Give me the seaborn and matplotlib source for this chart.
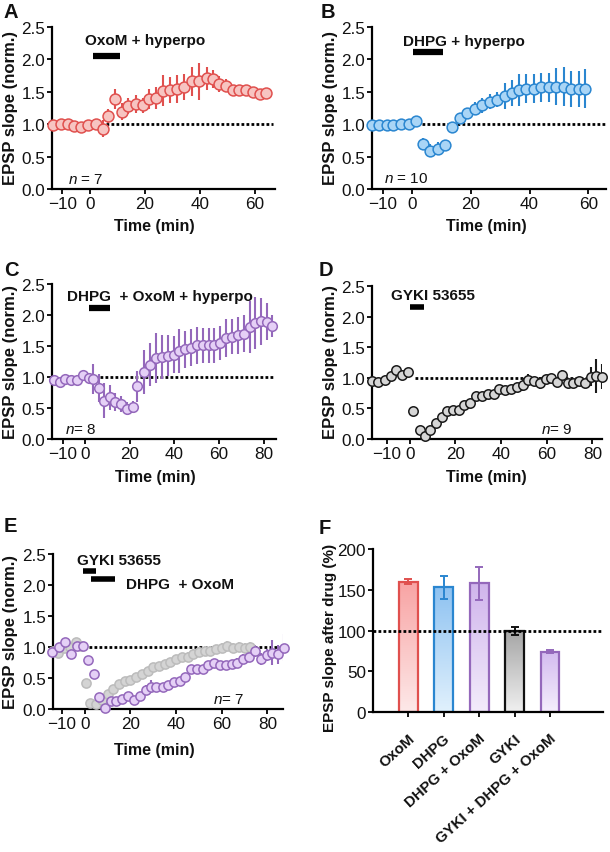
import numpy as np
import pandas as pd
import matplotlib
matplotlib.use("Agg")
import matplotlib.pyplot as plt
import seaborn as sns
from matplotlib import font_manager
from matplotlib.colors import LinearSegmentedColormap
from matplotlib.ticker import FormatStrFormatter
from matplotlib.transforms import ScaledTranslation

sns.set_theme(style="ticks")
_names = {f.name for f in font_manager.fontManager.ttflist}
BASE = "Liberation Sans" if "Liberation Sans" in _names else "DejaVu Sans"
NARROW = "Liberation Sans Narrow" if "Liberation Sans Narrow" in _names else BASE
TICK_FS = 13 if NARROW != BASE else 12.3
plt.rcParams["font.family"] = [BASE, "DejaVu Sans"]
plt.rcParams["mathtext.fontset"] = "custom"
plt.rcParams["mathtext.it"] = BASE + ":italic"
plt.rcParams["mathtext.rm"] = BASE

# ---------------- data ----------------
A_time = [-13.6, -10.5, -8.1, -5.8, -3.3, -0.6, 2.1, 4.6, 6.4, 9.1, 11.5, 13.9, 16.7, 19.4, 21.6, 24.2,
          26.7, 29.1, 31.5, 34.3, 37.0, 39.8, 42.4, 44.8, 47.0, 49.5, 51.9, 54.3, 56.7, 59.4, 61.8, 64.2]
A_val = [0.98, 1.00, 1.00, 0.97, 0.96, 0.99, 1.00, 0.93, 1.13, 1.39, 1.19, 1.28, 1.31, 1.29, 1.39, 1.41,
         1.52, 1.53, 1.54, 1.58, 1.66, 1.66, 1.71, 1.70, 1.62, 1.59, 1.53, 1.53, 1.53, 1.49, 1.47, 1.48]
A_err = [0.05, 0.07, 0.06, 0.06, 0.08, 0.06, 0.08, 0.13, 0.11, 0.15, 0.13, 0.13, 0.14, 0.12, 0.15, 0.17,
         0.24, 0.20, 0.22, 0.20, 0.23, 0.28, 0.18, 0.14, 0.13, 0.10, 0.08, 0.08, 0.08, 0.07, 0.07, 0.06]

B_time = [-13.6, -11.1, -8.6, -6.3, -3.7, -1.1, 1.5, 3.6, 6.2, 8.8, 11.3, 13.6, 16.2, 18.7, 21.3,
          23.8, 26.4, 28.9, 31.5, 34.0, 36.3, 38.9, 41.4, 44.0, 46.5, 49.0, 51.6, 54.1, 56.7, 58.9]
B_val = [0.99, 0.99, 0.99, 0.99, 1.00, 1.00, 1.05, 0.69, 0.59, 0.62, 0.68, 0.96, 1.10, 1.17, 1.24,
         1.29, 1.35, 1.38, 1.44, 1.48, 1.53, 1.55, 1.55, 1.57, 1.57, 1.58, 1.58, 1.54, 1.54, 1.55]
B_err = [0.03, 0.03, 0.03, 0.03, 0.03, 0.03, 0.04, 0.09, 0.10, 0.10, 0.08, 0.07, 0.07, 0.08, 0.10,
         0.12, 0.12, 0.12, 0.20, 0.20, 0.25, 0.22, 0.22, 0.22, 0.22, 0.28, 0.30, 0.28, 0.28, 0.30]

C_time = [-14.2, -11.5, -8.9, -6.4, -3.7, -1.1, 1.5, 3.7, 6.0, 8.2, 10.9, 13.5, 16.0, 18.7, 21.2, 23.4,
          26.4, 29.2, 31.7, 34.4, 36.9, 39.6, 42.1, 44.8, 47.4, 50.1, 52.6, 55.3, 57.8, 60.5, 63.2, 65.8,
          68.3, 71.0, 73.7, 76.2, 78.8, 81.5, 83.7]
C_val = [0.95, 0.92, 0.96, 0.95, 0.95, 1.03, 0.98, 0.97, 0.82, 0.62, 0.67, 0.60, 0.57, 0.49, 0.52, 0.85,
         1.08, 1.20, 1.31, 1.32, 1.34, 1.36, 1.42, 1.45, 1.47, 1.51, 1.51, 1.51, 1.51, 1.55, 1.63, 1.65,
         1.67, 1.70, 1.81, 1.87, 1.90, 1.89, 1.82]
C_err = [0.03, 0.03, 0.03, 0.03, 0.04, 0.05, 0.08, 0.24, 0.23, 0.28, 0.20, 0.15, 0.13, 0.10, 0.10, 0.25,
         0.35, 0.35, 0.40, 0.35, 0.33, 0.30, 0.35, 0.30, 0.30, 0.30, 0.28, 0.28, 0.28, 0.28, 0.30, 0.28,
         0.30, 0.30, 0.42, 0.42, 0.38, 0.30, 0.18]

D_time = [-16.7, -13.8, -10.9, -8.0, -5.8, -3.3, -0.7, 1.3, 4.4, 6.5, 9.0, 11.6, 14.1, 16.3, 18.8, 21.4,
          23.9, 26.5, 29.0, 31.6, 34.2, 36.7, 39.2, 41.8, 44.3, 46.9, 49.4, 51.7, 54.5, 57.1, 59.6, 61.9,
          64.4, 66.9, 69.5, 71.7, 74.2, 76.8, 79.3, 81.5, 84.1]
D_val = [0.95, 0.93, 0.96, 1.03, 1.12, 1.04, 1.09, 0.46, 0.15, 0.05, 0.15, 0.26, 0.36, 0.45, 0.48, 0.48,
         0.56, 0.59, 0.70, 0.71, 0.73, 0.74, 0.81, 0.80, 0.82, 0.85, 0.89, 0.96, 0.95, 0.91, 0.98, 0.99,
         0.93, 1.04, 0.91, 0.91, 0.95, 0.92, 1.02, 1.03, 1.02]
D_err = [0.03, 0.03, 0.03, 0.04, 0.04, 0.03, 0.03, 0.02, 0.02, 0.02, 0.02, 0.03, 0.03, 0.03, 0.03, 0.03,
         0.03, 0.03, 0.04, 0.04, 0.04, 0.04, 0.05, 0.05, 0.06, 0.07, 0.10, 0.10, 0.06, 0.10, 0.06, 0.06,
         0.08, 0.08, 0.05, 0.05, 0.05, 0.05, 0.15, 0.28, 0.20]

E_time = [-14.2, -11.3, -8.5, -6.1, -3.2, -0.7, 1.5, 4.1, 6.3, 8.8, 11.4, 13.9, 16.4, 19.0, 21.7, 24.1,
          26.6, 28.8, 31.4, 34.1, 36.5, 39.0, 41.7, 44.1, 46.5, 49.0, 51.6, 54.1, 56.7, 59.2, 61.7, 64.3,
          66.8, 69.4, 72.1, 74.6, 77.2, 79.7, 82.2, 84.8, 87.3]
E_val = [0.92, 1.00, 1.08, 0.88, 1.02, 1.02, 0.79, 0.57, 0.20, 0.02, 0.13, 0.13, 0.16, 0.21, 0.15, 0.21,
         0.30, 0.36, 0.36, 0.36, 0.39, 0.43, 0.45, 0.52, 0.64, 0.64, 0.65, 0.71, 0.74, 0.71, 0.71, 0.72,
         0.75, 0.80, 0.84, 0.94, 0.81, 0.87, 0.91, 0.88, 0.99]
E_err = [0.02, 0.02, 0.02, 0.02, 0.02, 0.02, 0.02, 0.02, 0.02, 0.02, 0.03, 0.03, 0.03, 0.03, 0.04, 0.05,
         0.08, 0.10, 0.06, 0.05, 0.05, 0.05, 0.05, 0.06, 0.07, 0.07, 0.06, 0.06, 0.06, 0.06, 0.06, 0.07,
         0.08, 0.08, 0.08, 0.10, 0.10, 0.10, 0.20, 0.15, 0.22]

Eg_time = [-14.0, -11.5, -9.0, -6.5, -4.0, -1.5, 0.5, 2.5, 5.0, 7.5, 10.0, 12.5, 15.0, 17.5, 20.0, 22.5,
           25.0, 27.5, 30.0, 32.5, 35.0, 37.5, 40.0, 42.5, 45.0, 47.5, 50.0, 52.5, 55.0, 57.5, 60.0, 62.5,
           65.0, 67.5, 70.0, 72.5]
Eg_val = [0.93, 0.90, 0.98, 1.00, 1.08, 1.02, 0.42, 0.10, 0.08, 0.15, 0.25, 0.33, 0.40, 0.45, 0.47, 0.52,
          0.57, 0.62, 0.68, 0.70, 0.72, 0.76, 0.80, 0.84, 0.84, 0.89, 0.92, 0.94, 0.94, 0.96, 0.99, 1.02,
          0.98, 1.00, 0.98, 1.00]
Eg_err = [0.02, 0.02, 0.02, 0.02, 0.03, 0.02, 0.02, 0.02, 0.02, 0.02, 0.03, 0.03, 0.03, 0.03, 0.03, 0.03,
          0.04, 0.04, 0.05, 0.05, 0.05, 0.05, 0.06, 0.07, 0.08, 0.08, 0.08, 0.08, 0.08, 0.08, 0.08, 0.08,
          0.08, 0.08, 0.08, 0.08]

F_labels = ["OxoM", "DHPG", "DHPG + OxoM", "GYKI", "GYKI + DHPG + OxoM"]
F_mean = [160, 153, 158, 99, 74]
F_err = [3, 14, 20, 5, 1.5]

# ---------------- style ----------------
RED_F, RED_E = "#f7c4c1", "#e0504e"
BLU_F, BLU_E = "#a9d5f6", "#2a86d0"
PUR_F, PUR_E = "#e5d0f6", "#9468bb"
GRY_F, GRY_E = "#d6d6d6", "#1a1a1a"

W, H = 610, 853
fig = plt.figure(figsize=(W / 100, H / 100), dpi=100)
fig.patch.set_facecolor("white")


def make_ax(l, t, r, b):
    return fig.add_axes([l / W, 1 - b / H, (r - l) / W, (b - t) / H])


def ftext(x, y, s, **kw):
    fig.text(x / W, 1 - y / H, s, **kw)


def style(ax, xlim, xticks):
    ax.set_facecolor("white")
    for sp in ["top", "right"]:
        ax.spines[sp].set_visible(False)
    for sp in ["left", "bottom"]:
        ax.spines[sp].set_linewidth(1.6)
        ax.spines[sp].set_color("black")
    ax.set_xlim(*xlim)
    ax.set_xticks(xticks)
    ax.set_ylim(0, 2.5)
    ax.set_yticks([0, 0.5, 1.0, 1.5, 2.0, 2.5])
    ax.yaxis.set_major_formatter(FormatStrFormatter("%.1f"))
    ax.tick_params(axis="both", direction="out", length=3.5, width=1.3, color="black",
                   labelsize=TICK_FS, pad=1.5, labelcolor="#111111")
    for lab in ax.get_xticklabels() + ax.get_yticklabels():
        lab.set_fontfamily(NARROW)
    ax.set_xlabel("")
    ax.set_ylabel("")


def course(ax, t, v, e, face, edge, s, ecol=None, zo=3, alpha=1.0):
    df = pd.DataFrame({"t": t, "v": v})
    ax.errorbar(t, v, yerr=e, fmt="none", ecolor=ecol or edge, elinewidth=1.5,
                capsize=0, zorder=zo - 1, alpha=alpha)
    sns.scatterplot(data=df, x="t", y="v", ax=ax, s=s, color=face, edgecolor=edge,
                    linewidth=1.1, zorder=zo, clip_on=False, legend=False, alpha=alpha)


def dotted(ax, x0, x1, y=1.0):
    ax.plot([x0, x1], [y, y], color="black", lw=2.0, ls=(0, (1, 0.8)), zorder=1.5,
            solid_capstyle="butt", clip_on=False)


def drugbar(ax, x0, x1, y, lw=4.5):
    ax.plot([x0, x1], [y, y], color="black", lw=lw, solid_capstyle="butt", zorder=4, clip_on=False)


ANN = dict(fontsize=11, fontweight="bold", color="#111111", va="center", ha="left")
NT = dict(fontsize=11, color="#111111", va="center", ha="left")
YL = dict(fontsize=12, fontweight="bold", rotation=90, ha="center", va="center", color="#111111")
XL = dict(fontsize=11.5, fontweight="bold", ha="center", va="center", color="#111111")
PL = dict(fontsize=14.5, fontweight="bold", ha="left", va="top", color="#111111")

# ---------------- A ----------------
axA = make_ax(52, 28, 275, 190)
dotted(axA, 6, 66.5)
course(axA, A_time, A_val, A_err, RED_F, RED_E, 62)
style(axA, (-13.8, 67.3), [-10, 0, 20, 40, 60])
drugbar(axA, 1, 11, 2.06)
axA.text(-1.8, 2.3, "OxoM + hyperpo", **ANN)
axA.text(-8, 0.15, r"$n$ = 7", **NT)
ftext(4, 3, "A", **PL)
ftext(11, 108, "EPSP slope (norm.)", **YL)
ftext(154, 227, "Time (min)", **XL)

# ---------------- B ----------------
axB = make_ax(372, 28, 606, 190)
dotted(axB, 3.4, 66)
course(axB, B_time, B_val, B_err, BLU_F, BLU_E, 60)
style(axB, (-13.6, 66), [-10, 0, 20, 40, 60])
drugbar(axB, 0.5, 10.7, 2.11)
axB.text(-2.9, 2.28, "DHPG + hyperpo", **ANN)
axB.text(-9.4, 0.17, r"$n$ = 10", **NT)
ftext(321, 3, "B", **PL)
ftext(330, 108, "EPSP slope (norm.)", **YL)
ftext(486, 227, "Time (min)", **XL)

# ---------------- C ----------------
axC = make_ax(52, 285, 276, 440)
dotted(axC, 6.7, 84.7)
course(axC, C_time, C_val, C_err, PUR_F, PUR_E, 48)
style(axC, (-14.9, 85.5), [-10, 0, 20, 40, 60, 80])
drugbar(axC, 1.5, 11.2, 2.12)
axC.text(-8.2, 2.3, "DHPG  + OxoM + hyperpo", **ANN)
axC.text(-9, 0.16, r"$n$= 8", **NT)
ftext(4, 261, "C", **PL)
ftext(11, 362, "EPSP slope (norm.)", **YL)
ftext(155, 478, "Time (min)", **XL)

# ---------------- D ----------------
axD = make_ax(372, 287, 602, 440)
dotted(axD, 2.5, 84)
course(axD, D_time, D_val, D_err, GRY_F, GRY_E, 46)
style(axD, (-16.5, 84.2), [-10, 0, 20, 40, 60, 80])
drugbar(axD, 0.3, 6.1, 2.16, lw=4)
axD.text(-8, 2.35, "GYKI 53655", **ANN)
axD.text(57.6, 0.16, r"$n$= 9", **NT)
ftext(319, 261, "D", **PL)
ftext(330, 362, "EPSP slope (norm.)", **YL)
ftext(486, 478, "Time (min)", **XL)

# ---------------- E ----------------
axE = make_ax(53, 555, 283, 710)
dotted(axE, 1.9, 86)
course(axE, Eg_time, Eg_val, Eg_err, "#d4d4d4", "#bcbcbc", 44, ecol="#c8c8c8", zo=2.6)
course(axE, E_time, E_val, E_err, PUR_F, PUR_E, 44, zo=3.2)
style(axE, (-13.9, 86.8), [-10, 0, 20, 40, 60, 80])
drugbar(axE, -0.7, 5.1, 2.23, lw=4)
drugbar(axE, 2.9, 13.2, 2.09, lw=4)
axE.text(-3.6, 2.41, "GYKI 53655", **ANN)
axE.text(18, 2.02, "DHPG  + OxoM", **ANN)
axE.text(56, 0.16, r"$n$= 7", **NT)
ftext(4, 517, "E", **PL)
ftext(11, 632, "EPSP slope (norm.)", **YL)
ftext(154, 750, "Time (min)", **XL)

# ---------------- F ----------------
axF = make_ax(373, 550, 603, 713)
dfF = pd.DataFrame({"cond": F_labels, "val": F_mean})
edges = [RED_E, BLU_E, PUR_E, "#111111", PUR_E]
tops = ["#f8a3a3", "#8ec2f1", "#d0b5ec", "#a6a6a6", "#d3bbef"]
bots = ["#fde9e9", "#e1f1fd", "#f3ecfb", "#f0f0f0", "#f5effc"]
sns.barplot(data=dfF, x="cond", y="val", hue="cond", palette=tops, legend=False,
            errorbar=None, width=0.53, ax=axF, zorder=2)
grad = np.linspace(0, 1, 256)[:, None]
for patch, tc, bc, ec in zip(axF.patches, tops, bots, edges):
    bb = patch.get_bbox()
    cmap = LinearSegmentedColormap.from_list("g", [tc, bc])
    im = axF.imshow(grad, extent=[bb.x0, bb.x1, bb.y0, bb.y1], origin="upper", cmap=cmap,
                    aspect="auto", zorder=1.8)
    im.set_clip_path(patch)
    patch.set_facecolor("none")
    patch.set_edgecolor(ec)
    patch.set_linewidth(1.6)
    patch.set_zorder(2.2)
for i, (m, e, ec) in enumerate(zip(F_mean, F_err, edges)):
    axF.errorbar(i, m, yerr=e, fmt="none", ecolor=ec, elinewidth=1.4, capsize=3.2,
                 capthick=1.4, zorder=3)
axF.set_xlim(-1, 5.5)
axF.set_ylim(0, 200)
axF.set_yticks([0, 50, 100, 150, 200])
axF.plot([-1, 5.5], [100, 100], color="black", lw=2.0, ls=(0, (1, 0.8)), zorder=4)
for sp in ["top", "right"]:
    axF.spines[sp].set_visible(False)
for sp in ["left", "bottom"]:
    axF.spines[sp].set_linewidth(1.6)
    axF.spines[sp].set_color("black")
axF.set_facecolor("white")
axF.tick_params(axis="both", direction="out", length=3.5, width=1.3, color="black",
                labelsize=TICK_FS, pad=1.5, labelcolor="#111111")
for lab in axF.get_yticklabels():
    lab.set_fontfamily(NARROW)
axF.set_xticks(range(len(F_labels)))
axF.set_xticklabels(F_labels, rotation=42, ha="right", va="center", rotation_mode="anchor",
                    fontweight="bold", fontsize=10.8, color="#111111")
axF.tick_params(axis="x", pad=14)
for lab in axF.get_xticklabels():
    lab.set_transform(lab.get_transform() + ScaledTranslation(4 / 100, 0, fig.dpi_scale_trans))
axF.set_xlabel("")
axF.set_ylabel("")
ftext(319, 519, "F", **PL)
ftext(330, 638, "EPSP slope after drug (%)", fontsize=11, fontweight="bold", rotation=90,
      ha="center", va="center", color="#111111")

fig.savefig("out.png", dpi=100, facecolor="white")
